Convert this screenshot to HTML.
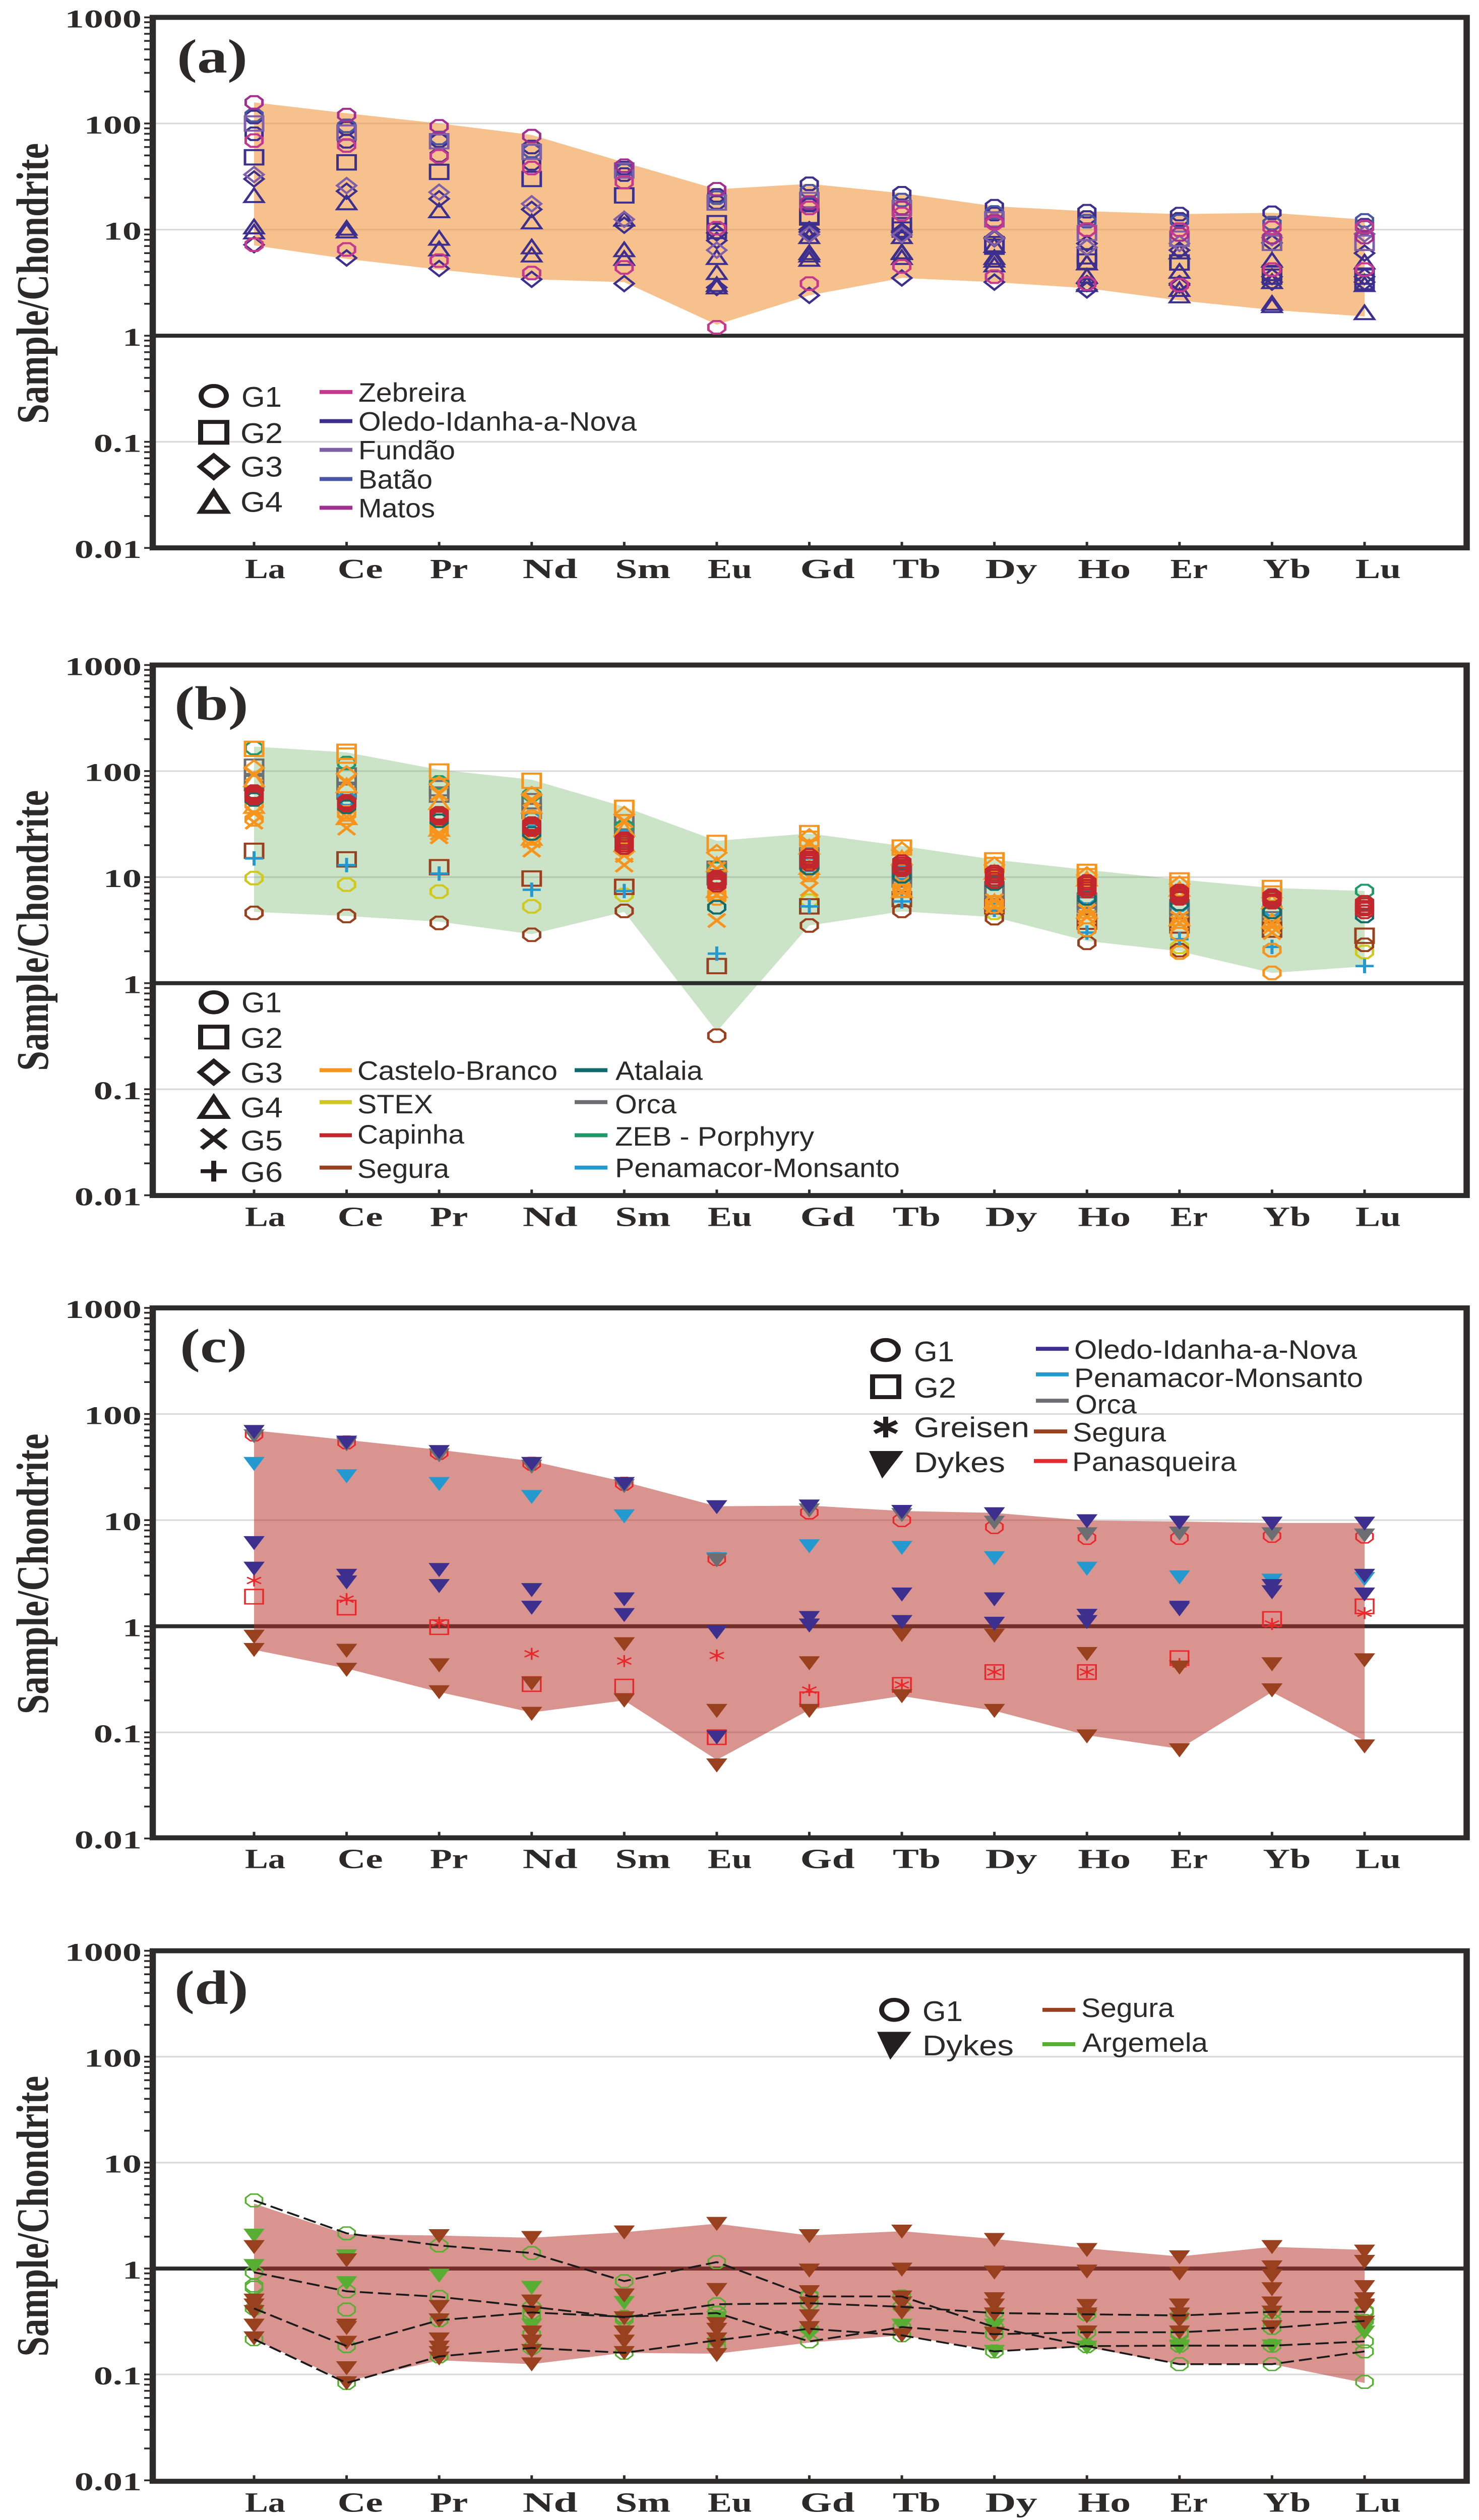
<!DOCTYPE html>
<html lang="en">
<head>
<meta charset="utf-8">
<title>Chondrite-normalized REE patterns</title>
<style>
html,body{margin:0;padding:0;background:#fff;width:100%;height:100%;overflow:hidden}
svg{display:block;position:absolute;left:0;top:0;width:100vw;height:100vh}
.serif{font-family:"Liberation Serif",serif;font-weight:700;fill:#2b2a29}
.leg{font-family:"Liberation Sans",sans-serif;font-size:67px;fill:#2b2a29}
.grp{font-family:"Liberation Sans",sans-serif;font-size:72px;fill:#2b2a29}
</style>
</head>
<body>
<svg id="chart" xmlns="http://www.w3.org/2000/svg" viewBox="0 0 2934 6313" preserveAspectRatio="none">
<rect x="0" y="0" width="2934" height="6313" fill="#fff"/>
<g id="pa"></g>
<g id="pb"></g>
<g id="pc"></g>
<g id="pd"></g>

<g>
<text class="serif" font-size="90" textLength="703" lengthAdjust="spacingAndGlyphs" text-anchor="middle" transform="translate(95,710) rotate(-90)">Sample/Chondrite</text>
<text class="serif" font-size="90" textLength="703" lengthAdjust="spacingAndGlyphs" text-anchor="middle" transform="translate(95,2331) rotate(-90)">Sample/Chondrite</text>
<text class="serif" font-size="90" textLength="703" lengthAdjust="spacingAndGlyphs" text-anchor="middle" transform="translate(95,3943) rotate(-90)">Sample/Chondrite</text>
<text class="serif" font-size="90" textLength="703" lengthAdjust="spacingAndGlyphs" text-anchor="middle" transform="translate(95,5552) rotate(-90)">Sample/Chondrite</text>
</g>
<g>
<text class="serif" font-size="120" x="351" y="182">(a)</text>
<text class="serif" font-size="120" x="346" y="1803">(b)</text>
<text class="serif" font-size="120" x="357" y="3412">(c)</text>
<text class="serif" font-size="120" x="346" y="5020">(d)</text>
</g>

<!-- Legend a -->
<g>
<circle cx="424" cy="992" r="25" fill="none" stroke="#231f20" stroke-width="10"/>
<rect x="398" y="1057" width="52" height="52" fill="none" stroke="#231f20" stroke-width="10"/>
<polygon points="424,1141 451,1169 424,1197 397,1169" fill="none" stroke="#231f20" stroke-width="10"/>
<polygon points="424,1232 450,1282 398,1282" fill="none" stroke="#231f20" stroke-width="10"/>
<text class="grp" x="479" y="1019" textLength="80" lengthAdjust="spacingAndGlyphs">G1</text>
<text class="grp" x="477" y="1110" textLength="84" lengthAdjust="spacingAndGlyphs">G2</text>
<text class="grp" x="477" y="1194" textLength="84" lengthAdjust="spacingAndGlyphs">G3</text>
<text class="grp" x="477" y="1282" textLength="84" lengthAdjust="spacingAndGlyphs">G4</text>
<rect x="634" y="977" width="65" height="10" fill="#c4398e"/>
<rect x="634" y="1050" width="65" height="10" fill="#3d2f8e"/>
<rect x="634" y="1122" width="65" height="10" fill="#7f5fa8"/>
<rect x="634" y="1195" width="65" height="10" fill="#4a55a3"/>
<rect x="634" y="1267" width="65" height="10" fill="#a1308f"/>
<text class="leg" x="711" y="1006" textLength="213" lengthAdjust="spacingAndGlyphs">Zebreira</text>
<text class="leg" x="711" y="1079" textLength="552" lengthAdjust="spacingAndGlyphs">Oledo-Idanha-a-Nova</text>
<text class="leg" x="711" y="1151" textLength="192" lengthAdjust="spacingAndGlyphs">Fundão</text>
<text class="leg" x="711" y="1224" textLength="147" lengthAdjust="spacingAndGlyphs">Batão</text>
<text class="leg" x="711" y="1296" textLength="152" lengthAdjust="spacingAndGlyphs">Matos</text>
</g>

<!-- Legend b -->
<g>
<circle cx="424" cy="2511" r="25" fill="none" stroke="#231f20" stroke-width="10"/>
<rect x="398" y="2572" width="52" height="52" fill="none" stroke="#231f20" stroke-width="10"/>
<polygon points="424,2658 451,2686 424,2714 397,2686" fill="none" stroke="#231f20" stroke-width="10"/>
<polygon points="424,2749 450,2798 398,2798" fill="none" stroke="#231f20" stroke-width="10"/>
<path d="M400 2829L448 2877M448 2829L400 2877" fill="none" stroke="#231f20" stroke-width="10"/>
<path d="M398 2934H450M424 2908V2960" fill="none" stroke="#231f20" stroke-width="10"/>
<text class="grp" x="479" y="2536" textLength="80" lengthAdjust="spacingAndGlyphs">G1</text>
<text class="grp" x="477" y="2625" textLength="84" lengthAdjust="spacingAndGlyphs">G2</text>
<text class="grp" x="477" y="2712" textLength="84" lengthAdjust="spacingAndGlyphs">G3</text>
<text class="grp" x="477" y="2799" textLength="84" lengthAdjust="spacingAndGlyphs">G4</text>
<text class="grp" x="477" y="2882" textLength="84" lengthAdjust="spacingAndGlyphs">G5</text>
<text class="grp" x="477" y="2961" textLength="84" lengthAdjust="spacingAndGlyphs">G6</text>
<rect x="634" y="2676" width="64" height="10" fill="#f7941d"/>
<rect x="634" y="2756" width="64" height="10" fill="#cfc91e"/>
<rect x="634" y="2839" width="64" height="10" fill="#c1272d"/>
<rect x="634" y="2920" width="64" height="10" fill="#99401e"/>
<rect x="1140" y="2676" width="65" height="10" fill="#136a6a"/>
<rect x="1140" y="2756" width="65" height="10" fill="#6d6e71"/>
<rect x="1140" y="2839" width="65" height="10" fill="#219a6b"/>
<rect x="1140" y="2920" width="65" height="10" fill="#2399d0"/>
<text class="leg" x="709" y="2705" textLength="397" lengthAdjust="spacingAndGlyphs">Castelo-Branco</text>
<text class="leg" x="709" y="2789" textLength="150" lengthAdjust="spacingAndGlyphs">STEX</text>
<text class="leg" x="709" y="2865" textLength="212" lengthAdjust="spacingAndGlyphs">Capinha</text>
<text class="leg" x="709" y="2951" textLength="182" lengthAdjust="spacingAndGlyphs">Segura</text>
<text class="leg" x="1221" y="2705" textLength="173" lengthAdjust="spacingAndGlyphs">Atalaia</text>
<text class="leg" x="1220" y="2789" textLength="122" lengthAdjust="spacingAndGlyphs">Orca</text>
<text class="leg" x="1220" y="2870" textLength="395" lengthAdjust="spacingAndGlyphs">ZEB - Porphyry</text>
<text class="leg" x="1220" y="2949" textLength="565" lengthAdjust="spacingAndGlyphs">Penamacor-Monsanto</text>
</g>

<!-- Legend c -->
<g>
<circle cx="1757" cy="3382" r="25" fill="none" stroke="#231f20" stroke-width="10"/>
<rect x="1731" y="3448" width="52" height="52" fill="none" stroke="#231f20" stroke-width="10"/>
<path d="M1757 3549V3601M1735 3562L1779 3588M1779 3562L1735 3588" fill="none" stroke="#231f20" stroke-width="10"/>
<polygon points="1724,3635 1792,3635 1750,3704" fill="#231f20"/>
<text class="grp" x="1813" y="3410" textLength="80" lengthAdjust="spacingAndGlyphs">G1</text>
<text class="grp" x="1813" y="3501" textLength="84" lengthAdjust="spacingAndGlyphs">G2</text>
<text class="grp" x="1813" y="3600" textLength="229" lengthAdjust="spacingAndGlyphs">Greisen</text>
<text class="grp" x="1813" y="3688" textLength="181" lengthAdjust="spacingAndGlyphs">Dykes</text>
<rect x="2055" y="3374" width="65" height="10" fill="#3d2f8e"/>
<rect x="2055" y="3438" width="65" height="10" fill="#2399d0"/>
<rect x="2055" y="3504" width="65" height="10" fill="#6d6e71"/>
<rect x="2051" y="3581" width="66" height="10" fill="#99401e"/>
<rect x="2051" y="3655" width="66" height="10" fill="#e8282b"/>
<text class="leg" x="2131" y="3404" textLength="561" lengthAdjust="spacingAndGlyphs">Oledo-Idanha-a-Nova</text>
<text class="leg" x="2131" y="3475" textLength="573" lengthAdjust="spacingAndGlyphs">Penamacor-Monsanto</text>
<text class="leg" x="2133" y="3541" textLength="122" lengthAdjust="spacingAndGlyphs">Orca</text>
<text class="leg" x="2128" y="3611" textLength="185" lengthAdjust="spacingAndGlyphs">Segura</text>
<text class="leg" x="2127" y="3685" textLength="326" lengthAdjust="spacingAndGlyphs">Panasqueira</text>
</g>

<!-- Legend d -->
<g>
<circle cx="1774" cy="5035" r="25" fill="none" stroke="#231f20" stroke-width="10"/>
<polygon points="1740,5090 1808,5090 1766,5160" fill="#231f20"/>
<text class="grp" x="1830" y="5063" textLength="80" lengthAdjust="spacingAndGlyphs">G1</text>
<text class="grp" x="1830" y="5149" textLength="181" lengthAdjust="spacingAndGlyphs">Dykes</text>
<rect x="2068" y="5030" width="65" height="10" fill="#99401e"/>
<rect x="2068" y="5116" width="65" height="10" fill="#58ae33"/>
<text class="leg" x="2145" y="5053" textLength="184" lengthAdjust="spacingAndGlyphs">Segura</text>
<text class="leg" x="2147" y="5140" textLength="249" lengthAdjust="spacingAndGlyphs">Argemela</text>
</g>
</svg>

<script>
// ---- shared axis data ----
const categories = ['La','Ce','Pr','Nd','Sm','Eu','Gd','Tb','Dy','Ho','Er','Yb','Lu'];
const yTickLabels = ['1000','100','10','1','0.1','0.01'];
const gridValues = [100,10,0.1];
const _ = null;

// ---- panel (a) ----
const aBandTop = [158,125,100,78,43,24,27,22,16.6,14.9,14,14.4,12.4];
const aBandBottom = [7.1,5.3,4.2,3.4,3.2,1.27,2.4,3.5,3.2,2.8,2.15,1.75,1.52];
const aOledoTri1 = [20.7,17.7,14.9,11.7,12.4,5.4,8.5,8.5,7,4.8,6.1,5.1,4.9];
const aOledoTri2 = [10.5,10.2,8.2,6.8,6.4,3.9,6,6.1,5.1,3.6,4,3.2,3];
const aOledoTri3 = [9.4,9.6,6.5,5.7,5.3,3,5.2,5.4,4.6,4.8,2.7,2,1.63];
const aOledoTri4 = [_,_,_,_,_,2.85,5.7,6,5.4,3,2.35,1.9,_];
const aOledoDia1 = [30,23,19.5,15.5,11,9.3,10,9.7,8.4,7.4,6.4,7.5,6];
const aOledoDia2 = [7.2,5.4,4.3,3.4,3.1,7.9,2.4,3.5,3.2,2.7,3,3.2,3.2];
const aOledoDia3 = [_,_,_,_,_,2.85,9.5,9.4,8.2,3.1,3.1,3.6,3.6];
const aOledoSq1 = [48,43,35,30,21,11.5,13,11,7.3,5.6,4.9,3.9,3.2];
const aOledoSq2 = [_,_,_,_,_,9.7,13.5,10,6.9,5,4.9,3.6,3.6];
const aOledoCircle1 = [115,90,69,60,38,21,27,22,16.6,14.9,14,14.4,11];
const aOledoCircle2 = [80,68,50,42,33,18,17,16,14,13,12.5,11.5,10.5];
const aBataoCircle = [120,95,73,55,36,20,23,19,14.5,12,12,11.5,12.2];
const aFundaoSq = [100,82,68,54,36,18,19,16,12.5,9.3,8.2,7.5,7.5];
const aFundaoDia = [33,26,22.5,17.5,12.5,6.4,9,8.9,8.3,6.8,7.4,8.4,9.1];
const aMatosCircle = [158,120,94,76,40,24,18,16,12,10,9,8.5,8.5];
const aZebreiraCircle1 = [69,62,49,38,28,10.3,16,14,11.5,10,10,10.4,10.6];
const aZebreiraCircle2 = [7.2,6.5,5.1,3.9,4.4,1.2,3.1,4.5,3.6,3.1,3,4.2,4.2];

// ---- panel (b) ----
const bBandTop = [170,150,103,83,46,22,25.8,19.7,14.6,11.7,9.5,7.9,7.4];
const bBandBottom = [4.7,4.3,3.8,2.9,4.7,0.35,3.5,4.75,4.2,2.5,2,1.25,1.44];
const bOrcaSq1 = [110,91,69,52,33,12,16,10.8,7.7,6,5.2,4.5,_];
const bOrcaSq2 = [77,64,60,42,28,10,14,9.5,7,5.5,4.8,4,_];
const bZebCircle = [165,119,78,60,30,12,15,12,9.5,7.5,6.5,6,7.4];
const bAtalaiaCircle = [54,46,34,25.8,19,5.2,12.2,10.2,8.7,6.3,5.6,4.7,4.3];
const bPenamacorCircle = [60,55,38,35,24,9,13,11,9,6.5,5.5,5,_];
const bStexCircle = [9.8,8.5,7.3,5.3,6.8,_,6,_,4.6,_,2.2,2.05,1.97];
const bSeguraCircle = [4.6,4.3,3.7,2.86,4.8,0.32,3.5,4.8,4.1,2.4,2.05,_,2.3];
const bSeguraSq = [17.7,14.7,12.4,9.7,8.1,1.45,5.3,6.2,5.3,3.8,3.5,3.2,2.8];
const bPenamacorPlus = [15,13,10.8,7.6,7.4,1.9,5.3,5.9,4.9,3,2.6,2.2,1.45];
const bCasteloSq1 = [162,140,99,81,45,21,26,19,14.4,11.2,9.3,7.9,_];
const bCasteloSq2 = [_,152,_,_,_,_,23,_,13,10.2,8.5,7,_];
const bCasteloDia1 = [107,94,75,60,39,17,24,18,13,10.5,8.6,6.4,_];
const bCasteloTri1 = [82,72,50,46,28,13,19,15,11,9.5,7.6,5.8,_];
const bCasteloTri2 = [46,36,28,23,20,7.4,12.2,7.4,5.8,4.7,4,3.8,_];
const bCasteloX1 = [93,78,61,54,34,12,21,16,11,8.7,7.4,3.7,_];
const bCasteloX2 = [40,29,24,18,13,3.9,7.7,7.4,5.3,4.2,3.7,3,_];
const bCasteloX3 = [33,37,26,22,16,6.8,10,8.8,6,4.8,4.1,3.4,_];
const bCasteloCircle1 = [48,39,30,37,21,6.3,10.5,8,5.8,3.2,1.94,2.05,_];
const bCasteloCircle2 = [35,41,27,24,18,7,11,7.5,5.3,4.2,2.9,1.25,_];
const bCapinhaCircle1 = [64,52,39,32,23,10,16,14,11.2,9.1,7.4,6.7,5.8];
const bCapinhaCircle2 = [60,50,38,30,21,9.2,14.6,12.7,10.2,8.2,6.8,6.3,5.2];
const bCapinhaCircle3 = [56,48,36,28,19,8.4,13.3,11.7,9.1,7.4,6.3,5.8,4.7];
const bCapinhaCircle4 = [62,51,40,31,22,9.6,15.2,13.3,10.7,8.7,7.1,6.5,5.5];
const bCapinhaCircle5 = [58,49,37,29,20,8.8,14,12.2,9.6,7.8,6.5,6,5];

// ---- panel (c) ----
const cBandTop = [70,57,46,36,23,13.5,13.7,12.2,11.7,9.9,9.7,9.4,9.4];
const cBandBottom = [0.6,0.4,0.24,0.154,0.2,0.055,0.163,0.22,0.16,0.094,0.07,0.24,0.083];
const cPanCircle = [64,54,43,34,22,4.3,11.8,10,8.6,6.8,6.8,7.1,7];
const cPanSquare = [1.9,1.5,0.98,0.285,0.27,0.09,0.205,0.28,0.37,0.37,0.5,1.17,1.54];
const cGreisen = [2.7,1.8,1.08,0.55,0.47,0.53,0.25,0.28,0.37,0.37,0.44,1.05,1.33];
const cSegura1 = [0.8,0.59,0.43,0.29,0.68,0.16,0.45,0.83,0.82,0.55,0.41,0.44,0.48];
const cSegura2 = [0.6,0.39,0.24,0.15,0.2,0.049,0.16,0.22,0.16,0.092,0.068,0.25,0.074];
const cPenamacor = [34,26,22,16.6,10.9,4.3,5.7,5.5,4.4,3.5,2.9,2.7,2.8];
const cOrca = [62,52,41,32,21,4.2,12.4,11.2,9.5,7.4,7.5,7.4,7.2];
const cOledo1 = [68,54,44,34,22,13.3,13.5,12,11.4,9.8,9.5,9.3,9.3];
const cOledo2 = [6.1,3,3.4,2.2,1.8,0.88,1.2,2,1.8,1.26,1.5,2.4,3];
const cOledo3 = [3.5,2.6,2.4,1.5,1.28,0.09,1.02,1.1,1.06,1.1,1.45,2.1,2];

// ---- panel (d) ----
const dBandTop = [4.1,2.1,2.05,1.95,2.2,2.65,2.05,2.25,1.9,1.55,1.3,1.6,1.5];
const dBandBottom = [0.215,0.086,0.136,0.125,0.16,0.157,0.2,0.234,0.168,0.18,0.125,0.125,0.083];
const dArgCircle1 = [4.4,2.15,1.65,1.4,0.76,1.15,0.545,0.545,0.28,0.185,0.125,0.125,0.165];
const dArgCircle2 = [0.92,0.61,0.54,0.435,0.345,0.46,0.47,0.435,0.38,0.37,0.36,0.39,0.39];
const dArgCircle3 = [0.42,0.185,0.325,0.385,0.35,0.38,0.205,0.28,0.24,0.25,0.25,0.275,0.32];
const dArgCircle4 = [0.215,0.083,0.148,0.178,0.16,0.21,0.27,0.234,0.165,0.185,0.187,0.187,0.205];
const dArgCircle5 = [0.66,0.41,0.325,0.24,0.33,0.18,0.56,_,0.24,_,0.24,0.32,0.4];
const dArgCircle6 = [0.69,_,_,0.36,_,0.385,_,_,_,_,_,_,0.085];
const dArgTri1 = [2.05,1.31,0.86,0.66,0.475,0.34,0.24,0.29,0.29,0.18,0.185,0.185,0.29];
const dArgTri2 = [1.06,0.73,_,0.29,_,_,_,_,0.164,_,0.18,_,0.25];
const dSegura1 = [1.6,1.2,2.03,1.95,2.2,2.65,2.03,2.24,1.87,1.5,1.28,1.6,1.45];
const dSegura2 = [0.5,0.29,0.435,0.49,0.56,0.63,0.96,0.98,0.92,0.94,0.9,1.03,1.16];
const dSegura3 = [0.39,0.275,0.325,0.385,0.34,0.3,0.6,0.535,0.515,0.445,0.45,0.85,0.67];
const dSegura4 = [0.29,0.2,0.215,0.25,0.25,0.265,0.47,0.47,0.45,0.37,0.37,0.64,0.515];
const dSegura5 = [0.22,0.115,0.18,0.205,0.205,0.215,0.355,0.385,0.37,0.355,0.325,0.47,0.45];
const dSegura6 = [_,0.083,0.142,0.167,0.16,0.153,0.275,0.234,0.243,0.25,0.25,0.385,0.435];
const dSegura7 = [0.45,_,0.16,0.125,_,0.19,_,_,_,_,_,0.28,0.31];

// ---- series tables: [name, marker, colour key, values] ----
const colors = {zebreira:'#c4398e',oledo:'#3d2f8e',fundao:'#7f5fa8',batao:'#4a55a3',matos:'#a1308f',
  castelo:'#f7941d',stex:'#cfc91e',capinha:'#c1272d',segura:'#99401e',atalaia:'#136a6a',orca:'#6d6e71',
  zeb:'#219a6b',penamacor:'#2399d0',panasqueira:'#e8282b',argemela:'#58ae33'};

const seriesA = [
  ['oledo-g4-1','up','oledo',aOledoTri1],['oledo-g4-2','up','oledo',aOledoTri2],['oledo-g4-3','up','oledo',aOledoTri3],['oledo-g4-4','up','oledo',aOledoTri4],
  ['oledo-g3-1','diamond','oledo',aOledoDia1],['oledo-g3-2','diamond','oledo',aOledoDia2],['oledo-g3-3','diamond','oledo',aOledoDia3],
  ['oledo-g2-1','square','oledo',aOledoSq1],['oledo-g2-2','square','oledo',aOledoSq2],
  ['oledo-g1-1','circle','oledo',aOledoCircle1],['oledo-g1-2','circle','oledo',aOledoCircle2],
  ['batao-g1','circle','batao',aBataoCircle],['fundao-g2','square','fundao',aFundaoSq],['fundao-g3','diamond','fundao',aFundaoDia],
  ['matos-g1','circle','matos',aMatosCircle],['zebreira-g1-1','circle','zebreira',aZebreiraCircle1],['zebreira-g1-2','circle','zebreira',aZebreiraCircle2]
];
const seriesB = [
  ['orca-g2-1','square','orca',bOrcaSq1],['orca-g2-2','square','orca',bOrcaSq2],['zeb-g1','circle','zeb',bZebCircle],
  ['penamacor-g1','circle','penamacor',bPenamacorCircle],['stex-g1','circle','stex',bStexCircle],
  ['segura-g1','circle','segura',bSeguraCircle],['segura-g2','square','segura',bSeguraSq],['penamacor-g6','plus','penamacor',bPenamacorPlus],
  ['castelo-g1-1','circle','castelo',bCasteloCircle1],['castelo-g1-2','circle','castelo',bCasteloCircle2],
  ['castelo-g5-1','x','castelo',bCasteloX1],['castelo-g5-2','x','castelo',bCasteloX2],['castelo-g5-3','x','castelo',bCasteloX3],
  ['castelo-g4-1','up','castelo',bCasteloTri1],['castelo-g4-2','up','castelo',bCasteloTri2],['castelo-g3','diamond','castelo',bCasteloDia1],
  ['castelo-g2-1','square','castelo',bCasteloSq1],['castelo-g2-2','square','castelo',bCasteloSq2],
  ['atalaia-g1','circle','atalaia',bAtalaiaCircle],
  ['capinha-g1-1','circle','capinha',bCapinhaCircle1],['capinha-g1-4','circle','capinha',bCapinhaCircle4],['capinha-g1-2','circle','capinha',bCapinhaCircle2],
  ['capinha-g1-5','circle','capinha',bCapinhaCircle5],['capinha-g1-3','circle','capinha',bCapinhaCircle3]
];
const seriesC = [
  ['panasqueira-g1','circle','panasqueira',cPanCircle],['panasqueira-g2','square','panasqueira',cPanSquare],['panasqueira-greisen','star','panasqueira',cGreisen],
  ['segura-dyke-1','down','segura',cSegura1],['segura-dyke-2','down','segura',cSegura2],
  ['penamacor-dyke','down','penamacor',cPenamacor],['orca-dyke','down','orca',cOrca],
  ['oledo-dyke-1','down','oledo',cOledo1],['oledo-dyke-2','down','oledo',cOledo2],['oledo-dyke-3','down','oledo',cOledo3]
];
const seriesD = [
  ['argemela-g1-1','circle','argemela',dArgCircle1],['argemela-g1-2','circle','argemela',dArgCircle2],['argemela-g1-3','circle','argemela',dArgCircle3],
  ['argemela-g1-4','circle','argemela',dArgCircle4],['argemela-g1-5','circle','argemela',dArgCircle5],['argemela-g1-6','circle','argemela',dArgCircle6],
  ['argemela-dyke-1','down','argemela',dArgTri1],['argemela-dyke-2','down','argemela',dArgTri2],
  ['segura-dyke-1','down','segura',dSegura1],['segura-dyke-2','down','segura',dSegura2],['segura-dyke-3','down','segura',dSegura3],
  ['segura-dyke-4','down','segura',dSegura4],['segura-dyke-5','down','segura',dSegura5],['segura-dyke-6','down','segura',dSegura6],['segura-dyke-7','down','segura',dSegura7]
];
const dashedD = [dArgCircle1,dArgCircle2,dArgCircle3,dArgCircle4];

// ---- drawing ----
const NS = 'http://www.w3.org/2000/svg';
function make(tag, attrs, parent) {
  const node = document.createElementNS(NS, tag);
  for (const k in attrs) node.setAttribute(k, attrs[k]);
  parent.appendChild(node);
  return node;
}
const xScale = i => 504 + i * 183.58;
const FRAME_L = 303, FRAME_R = 2909.5;
const labelFit = {La:80,Ce:90,Pr:75,Nd:109,Sm:110,Eu:88,Gd:108,Tb:95,Dy:103,Ho:105,Er:74,Yb:95,Lu:90};

function marker(g, kind, x, y, color, sw) {
  let m;
  if (kind === 'circle') {
    const pts = [];
    for (let k = 0; k < 8; k++) {
      const a = Math.PI / 8 + k * Math.PI / 4;
      pts.push((x + 18 * Math.cos(a)).toFixed(1) + ',' + (y + 17 * Math.sin(a)).toFixed(1));
    }
    m = make('polygon', {points: pts.join(' '), fill: 'none', stroke: color, 'stroke-width': sw}, g);
  } else if (kind === 'square') {
    m = make('rect', {x: x - 18, y: y - 18, width: 36, height: 36, fill: 'none', stroke: color, 'stroke-width': sw}, g);
  } else if (kind === 'diamond') {
    m = make('polygon', {points: `${x},${y-19} ${x+19},${y} ${x},${y+19} ${x-19},${y}`, fill: 'none', stroke: color, 'stroke-width': sw}, g);
  } else if (kind === 'up') {
    m = make('polygon', {points: `${x},${y-19} ${x+19},${y+15} ${x-19},${y+15}`, fill: 'none', stroke: color, 'stroke-width': sw}, g);
  } else if (kind === 'down') {
    m = make('polygon', {points: `${x-21},${y-17} ${x+21},${y-17} ${x},${y+18}`, fill: color}, g);
  } else if (kind === 'x') {
    m = make('path', {d: `M${x-17} ${y-17}L${x+17} ${y+17}M${x+17} ${y-17}L${x-17} ${y+17}`, fill: 'none', stroke: color, 'stroke-width': sw + 1}, g);
  } else if (kind === 'plus') {
    m = make('path', {d: `M${x-18} ${y}H${x+18}M${x} ${y-18}V${y+18}`, fill: 'none', stroke: color, 'stroke-width': sw + 1}, g);
  } else {
    m = make('path', {d: `M${x} ${y-15}V${y+15}M${x-14} ${y-8}L${x+14} ${y+8}M${x+14} ${y-8}L${x-14} ${y+8}`, fill: 'none', stroke: color, 'stroke-width': sw}, g);
  }
  return m;
}

function drawPanel(id, top, bottom, yOne, bandTop, bandBottom, bandFill, bandOpacity, bandOverAxis, series, sw, dashed) {
  const g = document.getElementById(id);
  const decade = (yOne - top) / 3;
  const yScale = v => yOne - decade * Math.log10(v);

  // grid
  gridValues.forEach(v => {
    const line = make('line', {x1: FRAME_L + 6, x2: FRAME_R - 6, y1: yScale(v), y2: yScale(v), stroke: '#d9d9d9', 'stroke-width': 4}, g);
    
    
  });

  const drawAxisOne = () => {
    const one = make('line', {x1: FRAME_L - 6, x2: FRAME_R + 6, y1: yScale(1), y2: yScale(1), stroke: '#2b2b2b', 'stroke-width': 10}, g);
    
    
  };
  const drawBand = () => {
    const pts = [];
    bandTop.forEach((v, i) => pts.push(xScale(i).toFixed(1) + ',' + yScale(v).toFixed(1)));
    for (let i = bandBottom.length - 1; i >= 0; i--) pts.push(xScale(i).toFixed(1) + ',' + yScale(bandBottom[i]).toFixed(1));
    const band = make('polygon', {points: pts.join(' '), fill: bandFill, 'fill-opacity': bandOpacity}, g);
    
    
  };
  if (bandOverAxis) { drawAxisOne(); drawBand(); } else { drawBand(); drawAxisOne(); }

  // frame
  const frame = make('rect', {x: FRAME_L, y: top, width: FRAME_R - FRAME_L, height: bottom - top, fill: 'none', stroke: '#2d2c2b', 'stroke-width': 12.5}, g);
  
  

  // y ticks
  for (let e = -2; e <= 3; e++) {
    const maxM = e === 3 ? 1 : 9;
    for (let m = 1; m <= maxM; m++) {
      const ty = yScale(m * Math.pow(10, e));
      const t = make('line', {x1: 286, x2: 298, y1: ty, y2: ty, stroke: '#2d2c2b', 'stroke-width': 4.5}, g);
      
      
    }
  }
  yTickLabels.forEach(label => {
    const lab = make('text', {'class': 'serif', 'font-size': 64, 'text-anchor': 'end',
      transform: `translate(281,${yScale(parseFloat(label)) + 25}) scale(1.19,1)`}, g);
    lab.textContent = label;
    
    
  });

  // x ticks + labels
  categories.forEach((c, i) => {
    const t = make('line', {x1: xScale(i), x2: xScale(i), y1: bottom - 15, y2: bottom, stroke: '#2d2c2b', 'stroke-width': 5}, g);
    
    
    const lab = make('text', {'class': 'serif', 'font-size': 70, x: xScale(i) - 18, y: bottom + 76,
      textLength: labelFit[c], lengthAdjust: 'spacingAndGlyphs'}, g);
    lab.textContent = c;
    
    
  });

  // series
  series.forEach(s => {
    const sg = make('g', {}, g);
    
    
    s[3].forEach((v, i) => {
      if (v === null) return;
      const m = marker(sg, s[1], xScale(i), yScale(v), colors[s[2]], sw);
      
      
    });
  });

  // dashed connector lines
  dashed.forEach(vals => {
    const d = vals.map((v, i) => (i ? 'L' : 'M') + xScale(i).toFixed(1) + ' ' + yScale(v).toFixed(1)).join('');
    const p = make('path', {d: d, fill: 'none', stroke: '#1a1a1a', 'stroke-width': 4.5, 'stroke-dasharray': '26 10'}, g);
    
    
  });
}

drawPanel('pa', 43.5, 1372.5, 841, aBandTop, aBandBottom, '#f29841', 0.6, false, seriesA, 5, []);
drawPanel('pb', 1666, 2995, 2463, bBandTop, bBandBottom, '#61aa55', 0.33, false, seriesB, 5, []);
drawPanel('pc', 3276.5, 4604, 4074, cBandTop, cBandBottom, '#b73129', 0.52, true, seriesC, 3.5, []);
drawPanel('pd', 4887, 6216, 5683, dBandTop, dBandBottom, '#b73129', 0.52, true, seriesD, 3.5, dashedD);
</script>
</body>
</html>
